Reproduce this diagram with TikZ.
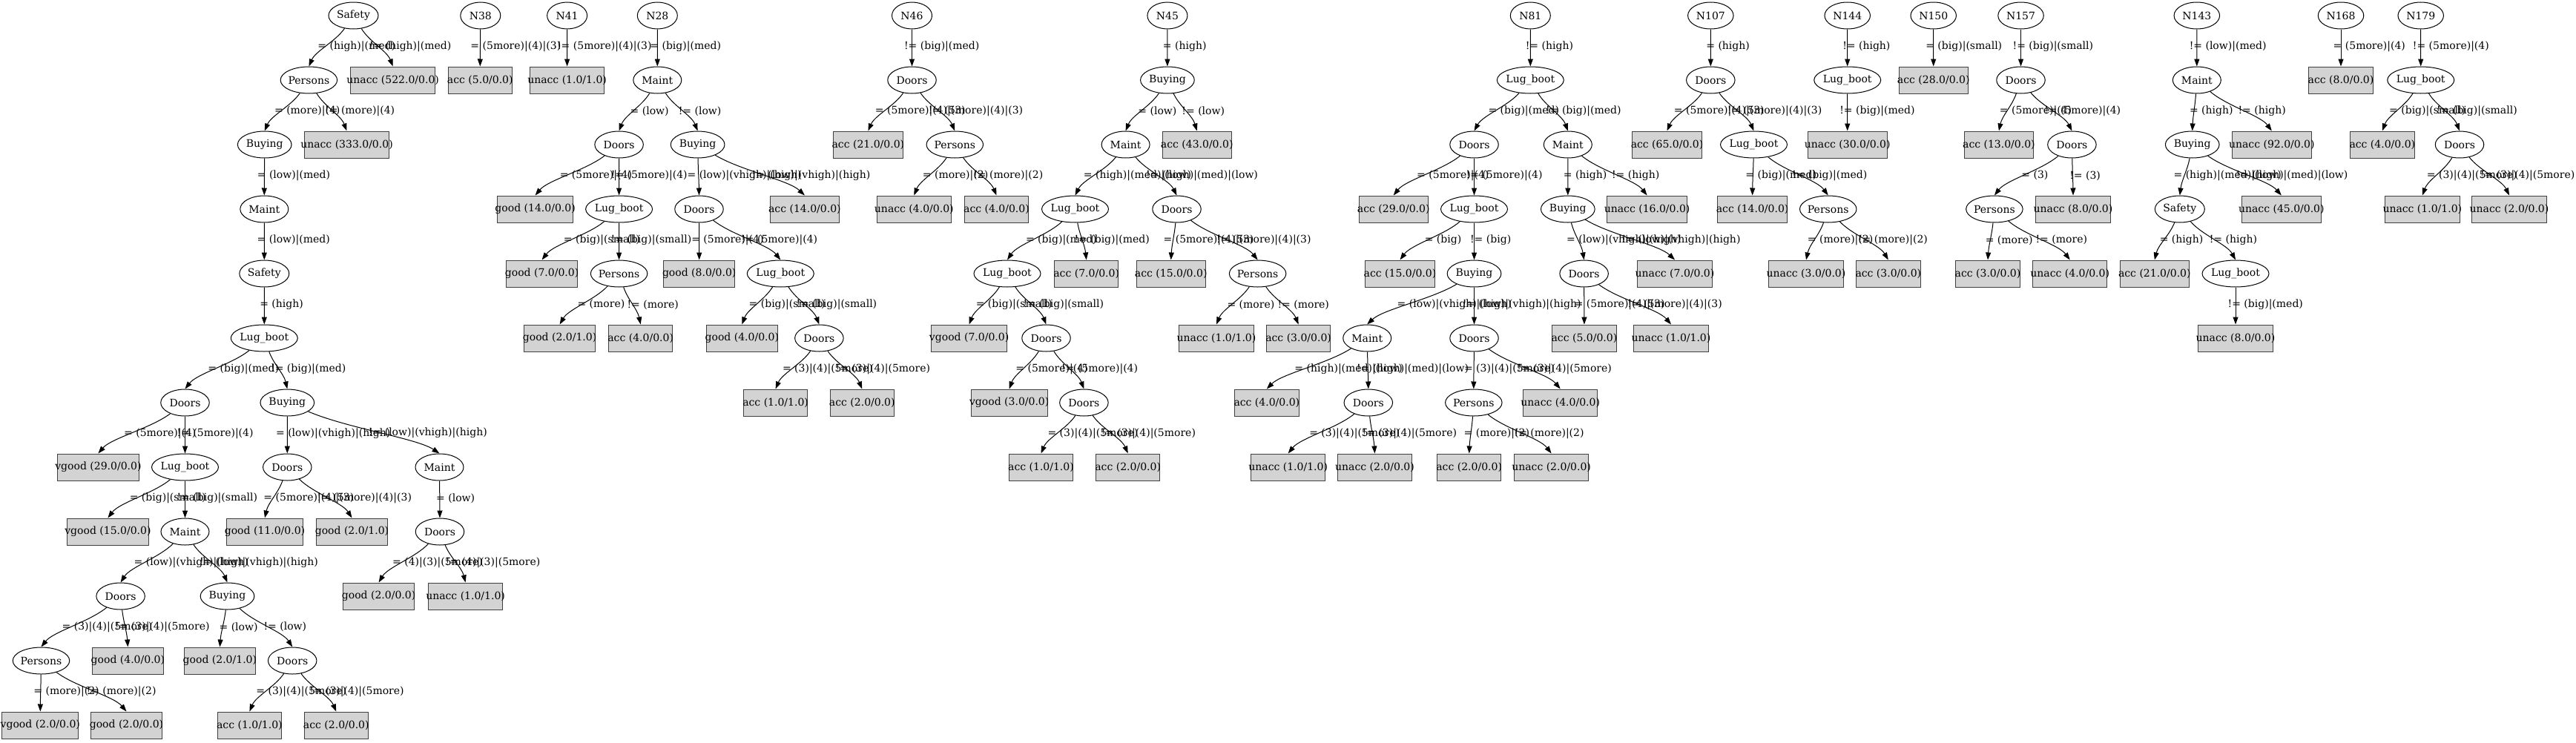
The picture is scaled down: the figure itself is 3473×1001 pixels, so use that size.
\documentclass[tikz,border=0pt]{standalone}
\usepackage{fontspec}
\setmainfont{DejaVu Serif}
\newfontfamily\tms{Liberation Serif}
\usetikzlibrary{shapes.geometric,arrows.meta,calc}
\definecolor{lg}{HTML}{D3D3D3}
\newlength\tbw
\newcommand\tbox[1]{\settowidth\tbw{\tms #1}\makebox[\tbw]{#1}}
\tikzset{
  ell/.style={draw=black, line width=1pt, ellipse, inner sep=0pt, minimum height=36pt},
  bx/.style={draw=black!75, line width=1pt, fill=lg, rectangle, inner xsep=8pt, inner ysep=0pt, minimum height=36pt},
  edge/.style={draw=black, line width=1pt, -{Triangle[length=10pt,width=7pt]}},
  lbl/.style={anchor=west, inner sep=0pt}
}
\newcommand\nE[4]{\node[ell,minimum width=#4pt] (#1) at (#2) {\makebox[0pt]{#3}};}
\newcommand\nB[3]{\node[bx] (#1) at (#2) {\tbox{#3}};}
\newcommand\nSf[2]{\nE{#1}{#2}{Safety}{67}}
\newcommand\nPe[2]{\nE{#1}{#2}{Persons}{76.5}}
\newcommand\nBu[2]{\nE{#1}{#2}{Buying}{72.7}}
\newcommand\nMa[2]{\nE{#1}{#2}{Maint}{65}}
\newcommand\nLb[2]{\nE{#1}{#2}{Lug\_boot}{90}}
\newcommand\nDo[2]{\nE{#1}{#2}{Doors}{65.5}}
\newcommand\edg[3]{%
  \path ($(#2.north)!0.15!(#1)$) coordinate (tA) ($(#2.north)!0.3!(#1)$) coordinate (tB) ($(#1)!0.4!(#2)$) coordinate (tC);
  \draw[edge] (#1) .. controls (tC) and (tA |- tB) .. (#2.north) node[lbl,pos=0.5] {\tbox{#3}};
}
\begin{document}
\begin{tikzpicture}[x=1pt,y=-1pt,font=\fontsize{14}{17}\selectfont]
\useasboundingbox (0,0) rectangle (3473,1001);
% ---------- tree 1
\nSf{a0}{476.5,21}
\nPe{a1}{416.4,108}
\nB{a2}{529.7,108}{unacc (522.0/0.0)}
\nBu{a3}{356.7,195}
\nB{a4}{467.5,195}{unacc (333.0/0.0)}
\nMa{a5}{356.3,282}
\nSf{a6}{356.3,369}
\nLb{a7}{356.3,456}
\nDo{a8}{249.5,543}
\nBu{a9}{387.3,543}
\nB{a10}{132.4,630}{vgood (29.0/0.0)}
\nLb{a11}{249.5,630}
\nDo{a12}{387.3,630}
\nMa{a13}{592.5,630}
\nB{a14}{145.4,717}{vgood (15.0/0.0)}
\nMa{a15}{249.5,717}
\nB{a16}{357,717}{good (11.0/0.0)}
\nB{a17}{474.5,717}{good (2.0/1.0)}
\nDo{a18}{593,717}
\nDo{a19}{162.6,804}
\nBu{a20}{306.5,804}
\nB{a21}{510.6,804}{good (2.0/0.0)}
\nB{a22}{627.6,804}{unacc (1.0/1.0)}
\nPe{a23}{55.5,891}
\nB{a24}{172.4,891}{good (4.0/0.0)}
\nB{a25}{296.4,891}{good (2.0/1.0)}
\nDo{a26}{394.2,891}
\nB{a27}{54.3,978}{vgood (2.0/0.0)}
\nB{a28}{170.5,978}{good (2.0/0.0)}
\nB{a29}{336.4,978}{acc (1.0/1.0)}
\nB{a30}{453.3,978}{acc (2.0/0.0)}
\edg{a0}{a1}{= (high)|(med)}
\edg{a0}{a2}{!= (high)|(med)}
\edg{a1}{a3}{= (more)|(4)}
\edg{a1}{a4}{!= (more)|(4)}
\edg{a3}{a5}{= (low)|(med)}
\edg{a5}{a6}{= (low)|(med)}
\edg{a6}{a7}{= (high)}
\edg{a7}{a8}{= (big)|(med)}
\edg{a7}{a9}{!= (big)|(med)}
\edg{a8}{a10}{= (5more)|(4)}
\edg{a8}{a11}{!= (5more)|(4)}
\edg{a9}{a12}{= (low)|(vhigh)|(high)}
\edg{a9}{a13}{!= (low)|(vhigh)|(high)}
\edg{a11}{a14}{= (big)|(small)}
\edg{a11}{a15}{!= (big)|(small)}
\edg{a12}{a16}{= (5more)|(4)|(3)}
\edg{a12}{a17}{!= (5more)|(4)|(3)}
\edg{a13}{a18}{= (low)}
\edg{a15}{a19}{= (low)|(vhigh)|(high)}
\edg{a15}{a20}{!= (low)|(vhigh)|(high)}
\edg{a18}{a21}{= (4)|(3)|(5more)}
\edg{a18}{a22}{!= (4)|(3)|(5more)}
\edg{a19}{a23}{= (3)|(4)|(5more)}
\edg{a19}{a24}{!= (3)|(4)|(5more)}
\edg{a20}{a25}{= (low)}
\edg{a20}{a26}{!= (low)}
\edg{a23}{a27}{= (more)|(2)}
\edg{a23}{a28}{!= (more)|(2)}
\edg{a26}{a29}{= (3)|(4)|(5more)}
\edg{a26}{a30}{!= (3)|(4)|(5more)}
% ---------- N38, N41
\nE{b0}{647.8,21}{N38}{54}
\nB{b1}{647.3,108}{acc (5.0/0.0)}
\edg{b0}{b1}{= (5more)|(4)|(3)}
\nE{c0}{764.6,21}{N41}{54}
\nB{c1}{764.6,108}{unacc (1.0/1.0)}
\edg{c0}{c1}{!= (5more)|(4)|(3)}
% ---------- N28
\nE{d0}{886.3,21}{N28}{54}
\nMa{d1}{886.3,108}
\nDo{d2}{834.6,195}
\nBu{d3}{940.6,195}
\nB{d4}{721.6,282}{good (14.0/0.0)}
\nLb{d5}{834.6,282}
\nDo{d6}{942.5,282}
\nB{d7}{1084.9,282}{acc (14.0/0.0)}
\nB{d8}{730.6,369}{good (7.0/0.0)}
\nPe{d9}{834.6,369}
\nB{d10}{942.7,369}{good (8.0/0.0)}
\nLb{d11}{1052.3,369}
\nB{d12}{754.6,456}{good (2.0/1.0)}
\nB{d13}{863.7,456}{acc (4.0/0.0)}
\nB{d14}{1000.3,456}{good (4.0/0.0)}
\nDo{d15}{1104.4,456}
\nB{d16}{1045.6,543}{acc (1.0/1.0)}
\nB{d17}{1162.3,543}{acc (2.0/0.0)}
\edg{d0}{d1}{= (big)|(med)}
\edg{d1}{d2}{= (low)}
\edg{d1}{d3}{!= (low)}
\edg{d2}{d4}{= (5more)|(4)}
\edg{d2}{d5}{!= (5more)|(4)}
\edg{d3}{d6}{= (low)|(vhigh)|(high)}
\edg{d3}{d7}{!= (low)|(vhigh)|(high)}
\edg{d5}{d8}{= (big)|(small)}
\edg{d5}{d9}{!= (big)|(small)}
\edg{d6}{d10}{= (5more)|(4)}
\edg{d6}{d11}{!= (5more)|(4)}
\edg{d9}{d12}{= (more)}
\edg{d9}{d13}{!= (more)}
\edg{d11}{d14}{= (big)|(small)}
\edg{d11}{d15}{!= (big)|(small)}
\edg{d15}{d16}{= (3)|(4)|(5more)}
\edg{d15}{d17}{!= (3)|(4)|(5more)}
% ---------- N46
\nE{e0}{1229.5,21}{N46}{54}
\nDo{e1}{1229.5,108}
\nB{e2}{1170.4,195}{acc (21.0/0.0)}
\nPe{e3}{1287.3,195}
\nB{e4}{1232.3,282}{unacc (4.0/0.0)}
\nB{e5}{1343.5,282}{acc (4.0/0.0)}
\edg{e0}{e1}{!= (big)|(med)}
\edg{e1}{e2}{= (5more)|(4)|(3)}
\edg{e1}{e3}{!= (5more)|(4)|(3)}
\edg{e3}{e4}{= (more)|(2)}
\edg{e3}{e5}{!= (more)|(2)}
% ---------- N45
\nE{f0}{1573.9,21}{N45}{54}
\nBu{f1}{1573.9,108}
\nMa{f2}{1517.6,195}
\nB{f3}{1613.7,195}{acc (43.0/0.0)}
\nLb{f4}{1449.5,282}
\nDo{f5}{1586.5,282}
\nLb{f6}{1358,369}
\nB{f7}{1464.7,369}{acc (7.0/0.0)}
\nB{f8}{1578.7,369}{acc (15.0/0.0)}
\nPe{f9}{1695.6,369}
\nB{f10}{1306.6,456}{vgood (7.0/0.0)}
\nDo{f11}{1410.5,456}
\nB{f12}{1640,456}{unacc (1.0/1.0)}
\nB{f13}{1750.6,456}{acc (3.0/0.0)}
\nB{f14}{1360.7,543}{vgood (3.0/0.0)}
\nDo{f15}{1461.4,543}
\nB{f16}{1403.5,630}{acc (1.0/1.0)}
\nB{f17}{1520.7,630}{acc (2.0/0.0)}
\edg{f0}{f1}{= (high)}
\edg{f1}{f2}{= (low)}
\edg{f1}{f3}{!= (low)}
\edg{f2}{f4}{= (high)|(med)|(low)}
\edg{f2}{f5}{!= (high)|(med)|(low)}
\edg{f4}{f6}{= (big)|(med)}
\edg{f4}{f7}{!= (big)|(med)}
\edg{f5}{f8}{= (5more)|(4)|(3)}
\edg{f5}{f9}{!= (5more)|(4)|(3)}
\edg{f6}{f10}{= (big)|(small)}
\edg{f6}{f11}{!= (big)|(small)}
\edg{f9}{f12}{= (more)}
\edg{f9}{f13}{!= (more)}
\edg{f11}{f14}{= (5more)|(4)}
\edg{f11}{f15}{!= (5more)|(4)}
\edg{f15}{f16}{= (3)|(4)|(5more)}
\edg{f15}{f17}{!= (3)|(4)|(5more)}
% ---------- N81
\nE{g0}{2063.3,21}{N81}{54}
\nLb{g1}{2063.3,108}
\nDo{g2}{1987.5,195}
\nMa{g3}{2113.8,195}
\nB{g4}{1878.7,282}{acc (29.0/0.0)}
\nLb{g5}{1987.5,282}
\nBu{g6}{2113.8,282}
\nB{g7}{2220.6,282}{unacc (16.0/0.0)}
\nB{g8}{1887.5,369}{acc (15.0/0.0)}
\nBu{g9}{1987.5,369}
\nDo{g10}{2135.6,369}
\nB{g11}{2258,369}{unacc (7.0/0.0)}
\nMa{g12}{1843.2,456}
\nDo{g13}{1987.5,456}
\nB{g14}{2135.9,456}{acc (5.0/0.0)}
\nB{g15}{2253,456}{unacc (1.0/1.0)}
\nB{g16}{1707.8,543}{acc (4.0/0.0)}
\nDo{g17}{1844.8,543}
\nPe{g18}{1986.8,543}
\nB{g19}{2103.7,543}{unacc (4.0/0.0)}
\nB{g20}{1736.7,630}{unacc (1.0/1.0)}
\nB{g21}{1853.5,630}{unacc (2.0/0.0)}
\nB{g22}{1980.7,630}{acc (2.0/0.0)}
\nB{g23}{2091.6,630}{unacc (2.0/0.0)}
\edg{g0}{g1}{!= (high)}
\edg{g1}{g2}{= (big)|(med)}
\edg{g1}{g3}{!= (big)|(med)}
\edg{g2}{g4}{= (5more)|(4)}
\edg{g2}{g5}{!= (5more)|(4)}
\edg{g3}{g6}{= (high)}
\edg{g3}{g7}{!= (high)}
\edg{g5}{g8}{= (big)}
\edg{g5}{g9}{!= (big)}
\edg{g6}{g10}{= (low)|(vhigh)|(high)}
\edg{g6}{g11}{!= (low)|(vhigh)|(high)}
\edg{g9}{g12}{= (low)|(vhigh)|(high)}
\edg{g9}{g13}{!= (low)|(vhigh)|(high)}
\edg{g10}{g14}{= (5more)|(4)|(3)}
\edg{g10}{g15}{!= (5more)|(4)|(3)}
\edg{g12}{g16}{= (high)|(med)|(low)}
\edg{g12}{g17}{!= (high)|(med)|(low)}
\edg{g13}{g18}{= (3)|(4)|(5more)}
\edg{g13}{g19}{!= (3)|(4)|(5more)}
\edg{g17}{g20}{= (3)|(4)|(5more)}
\edg{g17}{g21}{!= (3)|(4)|(5more)}
\edg{g18}{g22}{= (more)|(2)}
\edg{g18}{g23}{!= (more)|(2)}
% ---------- N107
\nE{h0}{2306.3,21}{N107}{61.5}
\nDo{h1}{2306.3,108}
\nB{h2}{2247.5,195}{acc (65.0/0.0)}
\nLb{h3}{2364.5,195}
\nB{h4}{2362.6,282}{acc (14.0/0.0)}
\nPe{h5}{2464.7,282}
\nB{h6}{2435,369}{unacc (3.0/0.0)}
\nB{h7}{2545.8,369}{acc (3.0/0.0)}
\edg{h0}{h1}{= (high)}
\edg{h1}{h2}{= (5more)|(4)|(3)}
\edg{h1}{h3}{!= (5more)|(4)|(3)}
\edg{h3}{h4}{= (big)|(med)}
\edg{h3}{h5}{!= (big)|(med)}
\edg{h5}{h6}{= (more)|(2)}
\edg{h5}{h7}{!= (more)|(2)}
% ---------- N144
\nE{i0}{2490.7,21}{N144}{61.5}
\nLb{i1}{2490.7,108}
\nB{i2}{2490.7,195}{unacc (30.0/0.0)}
\edg{i0}{i1}{!= (high)}
\edg{i1}{i2}{!= (big)|(med)}
% ---------- N150
\nE{j0}{2606.7,21}{N150}{61.5}
\nB{j1}{2606.7,108}{acc (28.0/0.0)}
\edg{j0}{j1}{= (big)|(small)}
% ---------- N157
\nE{k0}{2724.5,21}{N157}{61.5}
\nDo{k1}{2724.5,108}
\nB{k2}{2694.9,195}{acc (13.0/0.0)}
\nDo{k3}{2793.4,195}
\nPe{k4}{2688.9,282}
\nB{k5}{2795,282}{unacc (8.0/0.0)}
\nB{k6}{2680,369}{acc (3.0/0.0)}
\nB{k7}{2790.7,369}{unacc (4.0/0.0)}
\edg{k0}{k1}{!= (big)|(small)}
\edg{k1}{k2}{= (5more)|(4)}
\edg{k1}{k3}{!= (5more)|(4)}
\edg{k3}{k4}{= (3)}
\edg{k3}{k5}{!= (3)}
\edg{k4}{k6}{= (more)}
\edg{k4}{k7}{!= (more)}
% ---------- N143
\nE{l0}{2961.8,21}{N143}{61.5}
\nMa{l1}{2961.8,108}
\nBu{l2}{2955.7,195}
\nB{l3}{3062.8,195}{unacc (92.0/0.0)}
\nSf{l4}{2938.8,282}
\nB{l5}{3075.8,282}{unacc (45.0/0.0)}
\nB{l6}{2904.8,369}{acc (21.0/0.0)}
\nLb{l7}{3014,369}
\nB{l8}{3014,456}{unacc (8.0/0.0)}
\edg{l0}{l1}{!= (low)|(med)}
\edg{l1}{l2}{= (high)}
\edg{l1}{l3}{!= (high)}
\edg{l2}{l4}{= (high)|(med)|(low)}
\edg{l2}{l5}{!= (high)|(med)|(low)}
\edg{l4}{l6}{= (high)}
\edg{l4}{l7}{!= (high)}
\edg{l7}{l8}{!= (big)|(med)}
% ---------- N168
\nE{m0}{3156,21}{N168}{61.5}
\nB{m1}{3156,108}{acc (8.0/0.0)}
\edg{m0}{m1}{= (5more)|(4)}
% ---------- N179
\nE{n0}{3263.7,21}{N179}{61.5}
\nLb{n1}{3263.7,108}
\nB{n2}{3211.8,195}{acc (4.0/0.0)}
\nDo{n3}{3316,195}
\nB{n4}{3265.8,282}{unacc (1.0/1.0)}
\nB{n5}{3383,282}{unacc (2.0/0.0)}
\edg{n0}{n1}{!= (5more)|(4)}
\edg{n1}{n2}{= (big)|(small)}
\edg{n1}{n3}{!= (big)|(small)}
\edg{n3}{n4}{= (3)|(4)|(5more)}
\edg{n3}{n5}{!= (3)|(4)|(5more)}
\end{tikzpicture}
\end{document}
